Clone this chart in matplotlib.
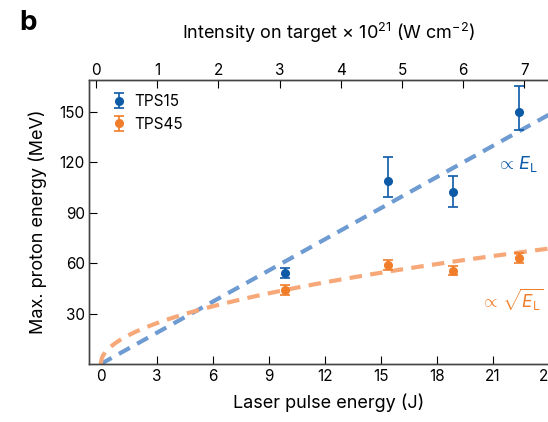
import matplotlib.pyplot as plt
import numpy as np

plt.rcParams['font.family'] = ['Inter', 'DejaVu Sans']
plt.rcParams['mathtext.fontset'] = 'custom'
plt.rcParams['mathtext.rm'] = 'Inter'
plt.rcParams['mathtext.it'] = 'Inter:italic'

# data
energy_15 = [9.9, 15.4, 18.9, 22.4]
proton_15 = [54, 109, 102, 150]
err_lo_15 = [3, 10, 9, 11]
err_hi_15 = [3, 14, 10, 15]

energy_45 = [9.9, 15.4, 18.9, 22.4]
proton_45 = [44, 59, 55.5, 63]
err_lo_45 = [3, 3, 2.5, 3]
err_hi_45 = [3, 3, 2.5, 3]

# fit coefficients (MeV/J and MeV/sqrt(J))
k_lin = 6.17
k_sqrt = 14.0

blue = '#0d5aa7'
blue_fit = '#6e9bd1'
orange = '#f07d2a'
orange_fit = '#f6a878'

fig = plt.figure(figsize=(5.48, 4.22), dpi=100)
ax = fig.add_axes([0.1633, 0.1374, 0.872, 0.672])

e = np.linspace(0, 25, 400)
ax.plot(e, k_lin * e, color=blue_fit, lw=3, ls=(0, (3, 2)))
ax.plot(e, k_sqrt * np.sqrt(e), color=orange_fit, lw=3, ls=(0, (3, 2)))

ax.errorbar(energy_15, proton_15, yerr=[err_lo_15, err_hi_15], fmt='o', color=blue,
            ms=5.5, capsize=3.5, elinewidth=1.2, capthick=1.2, label='TPS15')
ax.errorbar(energy_45, proton_45, yerr=[err_lo_45, err_hi_45], fmt='o', color=orange,
            ms=5.5, capsize=3.5, elinewidth=1.2, capthick=1.2, label='TPS45')

ax.set_xlim(-0.6, 25)
ax.set_ylim(0, 168.5)
ax.set_xticks(range(0, 25, 3))
ax.set_yticks([30, 60, 90, 120, 150])
ax.tick_params(direction='in', length=6, labelsize=11)
ax.set_xlabel('Laser pulse energy (J)', fontsize=13, labelpad=7)
ax.set_ylabel('Max. proton energy (MeV)', fontsize=13, labelpad=9)

top = ax.twiny()
top.set_xlim(-0.106, 7.70)
top.set_xticks(range(0, 8))
top.tick_params(direction='in', length=6, labelsize=11, pad=2)
top.set_xlabel('Intensity on target × 10$^{21}$ (W cm$^{-2}$)', fontsize=13, labelpad=17)

for a in (ax, top):
    for s in a.spines.values():
        s.set_linewidth(1)
        s.set_color('#444444')

ax.legend(loc='upper left', bbox_to_anchor=(0.02, 0.99), frameon=False, fontsize=11,
          handletextpad=0.4, borderaxespad=0.3, handlelength=1.2)

ax.text(21.2, 119, r'$\propto\,E_\mathrm{L}$', color=blue, fontsize=13, va='center')
ax.text(20.3, 38, r'$\propto\,\sqrt{E_\mathrm{L}}$', color=orange, fontsize=12.5, va='center')

fig.text(0.035, 0.93, 'b', fontsize=20, fontweight='bold')

fig.savefig('out.png', dpi=100)
